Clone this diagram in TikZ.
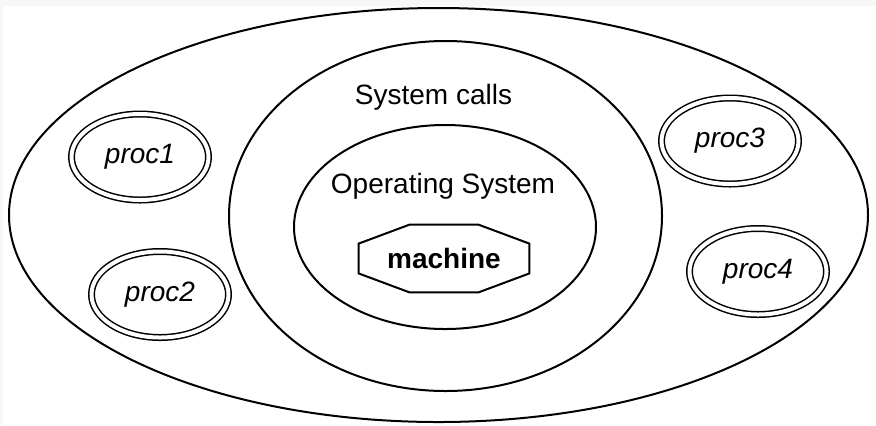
\documentclass[tikz,border=0pt]{standalone}
\usepackage{fontspec}
\setmainfont{Liberation Sans}
\usetikzlibrary{shapes.geometric}

\begin{document}
\begin{tikzpicture}[
    x = 0.5pt, y = -0.5pt,
    ring/.style = {draw, ellipse, line width=1pt, inner sep=0pt},
    proc/.style = {draw, ellipse, double, line width=0.75pt, double distance=2pt, minimum width=68.5pt, minimum height=43pt, font=\fontsize{14}{17}\selectfont\itshape},
    txt/.style = {anchor=base, font=\fontsize{14}{17}\selectfont}
]
\useasboundingbox (0,0) rectangle (876,425);
\fill[black!3] (0,0) rectangle (876,425);
\fill[white] (3,6) rectangle (876,425);

% the three rings
\node (user) [ring, minimum width=429.5pt, minimum height=207pt] at (438.5,215) {};
\node (sys) [ring, minimum width=216.5pt, minimum height=175pt] at (445.5,216) {};
\node (os) [ring, minimum width=151pt, minimum height=102pt] at (445,227) {};

\node (syslbl) [txt] at (433.5,104) {System calls};
\node (oslbl) [txt] at (443,193) {Operating System};

% machine box
\node (mach) [minimum width=85pt, minimum height=33.5pt, inner sep=0pt, font=\fontsize{14}{17}\selectfont\bfseries] at (444,258.5) {machine};
\draw[line width=1pt] ([xshift=25.5pt]mach.north west) -- ([xshift=-25.5pt]mach.north east)
    -- ([yshift=-9.5pt]mach.north east) -- ([yshift=9.5pt]mach.south east)
    -- ([xshift=-25.5pt]mach.south east) -- ([xshift=25.5pt]mach.south west)
    -- ([yshift=9.5pt]mach.south west) -- ([yshift=-9.5pt]mach.north west) -- cycle;

% processes
\node (p1) [proc] at (140,157) {proc1};
\node (p2) [proc] at (160,294.5) {proc2};
\node (p3) [proc] at (730,141) {proc3};
\node (p4) [proc] at (758,271.5) {proc4};
\end{tikzpicture}
\end{document}
